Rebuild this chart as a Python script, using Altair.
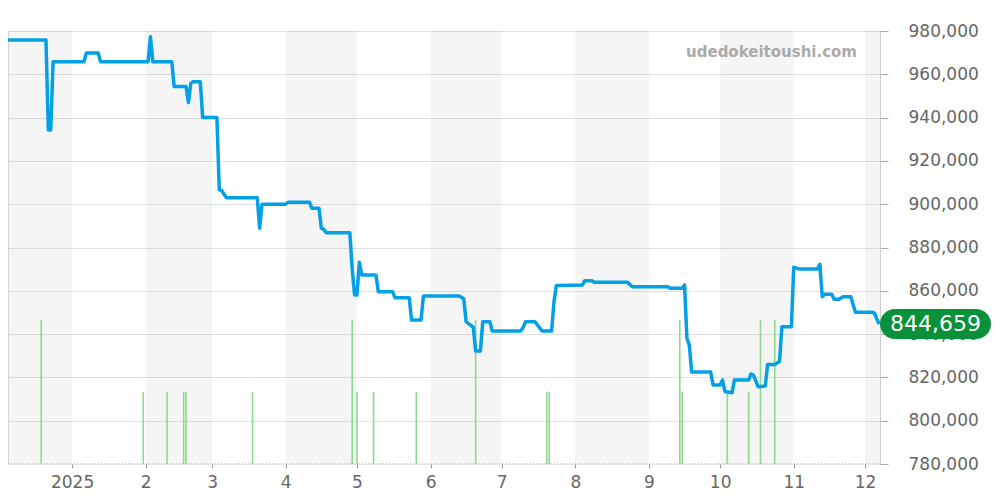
import altair as alt
import pandas as pd

# ---------------- data ----------------
line_dates = [
    "2024-12-05", "2024-12-21", "2024-12-22", "2024-12-23", "2024-12-24",
    "2025-01-06", "2025-01-07", "2025-01-12", "2025-01-13",
    "2025-02-02", "2025-02-03", "2025-02-04", "2025-02-12", "2025-02-13",
    "2025-02-18", "2025-02-19", "2025-02-20", "2025-02-21", "2025-02-24",
    "2025-02-25", "2025-03-03", "2025-03-04", "2025-03-05", "2025-03-07",
    "2025-03-20", "2025-03-21", "2025-03-22", "2025-04-01", "2025-04-02",
    "2025-04-11", "2025-04-12", "2025-04-15", "2025-04-16", "2025-04-17",
    "2025-04-18", "2025-04-28", "2025-04-29", "2025-04-30", "2025-05-01",
    "2025-05-02", "2025-05-03", "2025-05-09", "2025-05-10", "2025-05-16",
    "2025-05-17", "2025-05-23", "2025-05-24", "2025-05-28", "2025-05-29",
    "2025-06-13", "2025-06-14", "2025-06-15", "2025-06-16", "2025-06-17",
    "2025-06-18", "2025-06-19", "2025-06-20", "2025-06-22", "2025-06-23",
    "2025-06-26", "2025-06-27", "2025-07-09", "2025-07-10", "2025-07-11",
    "2025-07-15", "2025-07-18", "2025-07-22", "2025-07-23", "2025-07-24",
    "2025-08-04", "2025-08-05", "2025-08-08", "2025-08-09", "2025-08-23",
    "2025-08-25", "2025-09-09", "2025-09-10", "2025-09-15", "2025-09-16",
    "2025-09-17", "2025-09-18", "2025-09-19", "2025-09-27", "2025-09-28",
    "2025-10-01", "2025-10-02", "2025-10-03", "2025-10-06", "2025-10-07",
    "2025-10-13", "2025-10-14", "2025-10-15", "2025-10-17", "2025-10-20",
    "2025-10-21", "2025-10-24", "2025-10-26", "2025-10-27", "2025-10-31",
    "2025-11-01", "2025-11-03", "2025-11-11", "2025-11-12", "2025-11-13",
    "2025-11-14", "2025-11-17", "2025-11-18", "2025-11-20", "2025-11-22",
    "2025-11-25", "2025-11-27", "2025-12-04", "2025-12-05", "2025-12-06",
    "2025-12-07",
]
line_values = [
    975800, 975800, 934300, 934300, 965800,
    965800, 969800, 969800, 965800,
    965800, 977400, 965800, 965800, 954400,
    954400, 947000, 955800, 956600, 956600,
    940100, 940100, 906600, 906300, 903000,
    903000, 888900, 900000, 900000, 900900,
    900900, 898100, 898100, 888900, 888400,
    886800, 886800, 870000, 858100, 858100,
    873200, 867300, 867300, 859600, 859600,
    856800, 856800, 846500, 846500, 857600,
    857600, 857000, 856300, 845700, 844800,
    844000, 843100, 832200, 832200, 845700,
    845700, 841400, 841400, 843000, 845700,
    845700, 841400, 841400, 855000, 862500,
    862700, 864700, 864700, 863900, 863900,
    861900, 861900, 861200, 861200, 862700,
    838000, 834900, 822500, 822500, 816500,
    816500, 818800, 813500, 812900, 818800,
    818800, 821600, 821100, 815700, 816000,
    826000, 826000, 827300, 843400, 843400,
    870900, 870100, 870100, 872200, 857300,
    858400, 858400, 856100, 856100, 857300,
    857300, 850100, 850100, 849700, 847000,
    844659,
]

vol_dates = [
    "2024-12-19", "2025-01-31", "2025-02-10", "2025-02-17", "2025-02-18",
    "2025-03-18", "2025-04-29", "2025-05-01", "2025-05-08", "2025-05-26",
    "2025-06-20", "2025-07-20", "2025-07-21", "2025-09-14", "2025-09-15",
    "2025-10-04", "2025-10-13", "2025-10-18", "2025-10-24",
]
vol_counts = [2, 1, 1, 1, 1, 1, 2, 1, 1, 1, 2, 1, 1, 2, 1, 1, 1, 2, 2]

band_starts = ["2024-12-05T00:00:00", "2025-02-01T00:00:00", "2025-04-01T00:00:00",
               "2025-06-01T00:00:00", "2025-08-01T00:00:00", "2025-10-01T00:00:00",
               "2025-12-01T00:00:00"]
band_ends = ["2025-01-01T00:00:00", "2025-03-01T00:00:00", "2025-05-01T00:00:00",
             "2025-07-01T00:00:00", "2025-09-01T00:00:00", "2025-11-01T00:00:00",
             "2025-12-07T08:00:00"]

price_ticks = [780000, 800000, 820000, 840000, 860000, 880000, 900000,
               920000, 940000, 960000, 980000]
last_price = 844659
watermark = "udedokeitoushi.com"

# ---------------- tables ----------------
price_df = pd.DataFrame({"date": pd.to_datetime(line_dates), "price": line_values})
vol_df = pd.DataFrame({"date": pd.to_datetime(vol_dates), "vol": vol_counts})
band_df = pd.DataFrame({"start": pd.to_datetime(band_starts, format="ISO8601"),
                        "end": pd.to_datetime(band_ends, format="ISO8601")})
last_df = pd.DataFrame({"price": [last_price]})
wm_df = pd.DataFrame({"t": [watermark]})

W, H = 872, 433
FONT = "DejaVu Sans"

x_scale = alt.Scale(domain=[alt.DateTime(year=2024, month=12, date=5),
                            alt.DateTime(year=2025, month=12, date=7, hours=8)],
                    padding=0)
x_axis = alt.Axis(
    values=[alt.DateTime(year=2025, month=m, date=1) for m in range(1, 13)],
    labelExpr="month(datum.value) == 0 ? '' + year(datum.value) : '' + (month(datum.value) + 1)",
    grid=False, domain=False, tickColor="#999", tickSize=4,
    labelFontSize=17, labelColor="#666", labelFont=FONT, labelPadding=6,
    title=None,
)
y_scale = alt.Scale(domain=[780000, 980000], nice=False, zero=False)
y_axis = alt.Axis(
    orient="right", values=price_ticks, title=None,
    labelExpr="format(datum.value, ',')",
    labelFontSize=17, labelColor="#666", labelFont=FONT, labelPadding=20,
    tickSize=8, tickColor="#aaa", domainColor="#ccc",
    gridColor="#e2e2e2", grid=True,
)

bands = alt.Chart(band_df).mark_rect(color="#000", opacity=0.04).encode(
    x=alt.X("start:T", scale=x_scale, axis=x_axis),
    x2="end:T",
    y=alt.value(0), y2=alt.value(H),
)

base_line = alt.Chart(pd.DataFrame({"d": [0]})).mark_rule(
    color="#6cc76c", strokeDash=[1, 2], opacity=0.6, strokeWidth=1
).encode(x=alt.value(0), x2=alt.value(W), y=alt.value(H - 0.5))

vols = alt.Chart(vol_df).mark_bar(color="#8fd98f", width=1.6).encode(
    x=alt.X("date:T", scale=x_scale, axis=x_axis),
    y=alt.Y("vol:Q", scale=alt.Scale(domain=[0, 6]), axis=None),
)

line = alt.Chart(price_df).mark_line(
    color="#03a0e6", strokeWidth=3.5, strokeJoin="round", clip=True
).encode(
    x=alt.X("date:T", scale=x_scale, axis=x_axis),
    y=alt.Y("price:Q", scale=y_scale, axis=y_axis),
)

badge = alt.Chart(last_df).transform_calculate(
    lo="datum.price - 6930", hi="datum.price + 6930"
).mark_rect(color="#08913a", cornerRadius=15).encode(
    x=alt.value(W), x2=alt.value(W + 111),
    y=alt.Y("lo:Q", scale=y_scale, axis=y_axis), y2="hi:Q",
)
badge_text = alt.Chart(last_df).mark_text(
    color="white", fontSize=22, font=FONT, align="center", baseline="middle"
).encode(
    x=alt.value(W + 55.5),
    y=alt.Y("price:Q", scale=y_scale, axis=y_axis),
    text=alt.Text("price:Q", format=","),
)

price_layer = alt.layer(line, badge, badge_text)

wm = alt.Chart(wm_df).mark_text(
    color="#aaa", fontSize=15, fontWeight="bold", font=FONT,
    align="right", baseline="middle"
).encode(x=alt.value(849), y=alt.value(21), text="t:N")

chart = alt.layer(bands, base_line, vols, price_layer, wm).resolve_scale(
    y="independent"
).properties(
    width=W, height=H,
    autosize=alt.AutoSizeParams(type="none"),
    padding={"left": 0, "top": 23, "right": 112, "bottom": 28},
).configure_view(stroke=None).configure(background="white")

chart.save("out.html", embed_options={"renderer": "svg", "actions": False})
